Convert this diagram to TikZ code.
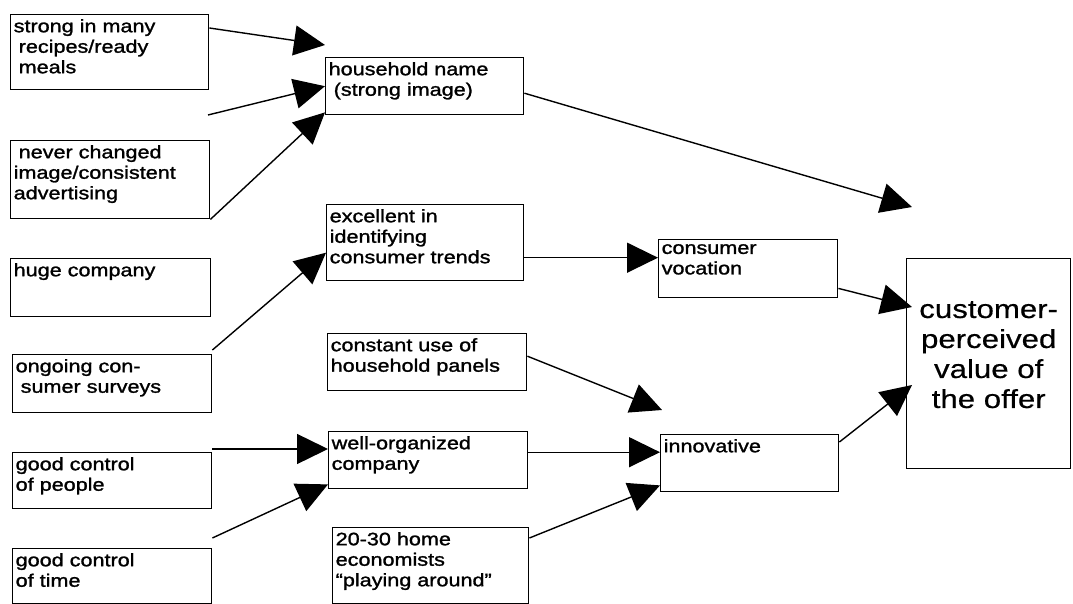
\documentclass[tikz,border=0pt]{standalone}
\usepackage{fontspec}
\setmainfont{Liberation Sans}[FakeStretch=1.2, FakeBold=1.4]
\newfontfamily\bigfont{Liberation Sans}[FakeStretch=1.2, FakeBold=0.5]
\usetikzlibrary{arrows.meta}
\newcommand{\tbx}[3]{\parbox[t][#2][t]{#1}{\raggedright\fontsize{18}{20.5}\selectfont #3}}
\newcommand{\ind}{\hspace*{5pt}}
\begin{document}
\begin{tikzpicture}[x=1pt,y=-1pt,
  box/.style={draw, line width=1.4pt, anchor=north west, inner xsep=3pt, inner ysep=4.5pt},
  arr/.style={line width=1.4pt, -{Triangle[length=31pt,width=30pt]}}]
\useasboundingbox (0,0) rectangle (1073,604);

% left column
\node[box] (b1) at (10,14)  {\tbx{192pt}{66pt}{strong in many\\ \ind recipes/ready\\ \ind meals}};
\node[box] (b2) at (10,140) {\tbx{193pt}{69pt}{\ind never changed\\ image/consistent\\ advertising}};
\node[box] (b3) at (10,258) {\tbx{194pt}{49pt}{huge company}};
\node[box] (b4) at (12,354) {\tbx{193pt}{49pt}{ongoing con-\\ \ind sumer surveys}};
\node[box] (b5) at (12,452) {\tbx{193pt}{47pt}{good control\\ of people}};
\node[box] (b6) at (12,548) {\tbx{193pt}{46pt}{good control\\ of time}};

% middle column
\node[box] (m1) at (325,57)  {\tbx{192pt}{48pt}{household name\\ \ind(strong image)}};
\node[box] (m2) at (326,204) {\tbx{191pt}{67pt}{excellent in\\ identifying\\ consumer trends}};
\node[box] (m3) at (327,333) {\tbx{193pt}{48pt}{constant use of\\ household panels}};
\node[box] (m4) at (328,431) {\tbx{193pt}{48pt}{well-organized\\ company}};
\node[box] (m5) at (332,527) {\tbx{190pt}{67pt}{20-30 home\\ economists\\ “playing around”}};

% right
\node[box] (cv)  at (658,239) {\tbx{173pt}{49pt}{consumer\\ vocation}};
\node[box] (inn) at (660,434) {\tbx{172pt}{48pt}{innovative}};
\node[draw, line width=1.4pt, anchor=north west, minimum width=164pt, minimum height=210pt,
      font=\bigfont\fontsize{26}{30}\selectfont] (cpv) at (906,258)
      {\raisebox{9pt}[\height][\depth]{\parbox{150pt}{\centering customer-\\perceived\\value of\\the offer}}};

% free ends
\coordinate (t1) at (325,45);
\coordinate (s2) at (208,115);
\coordinate (t4) at (912,207);
\coordinate (t8) at (662,410);

% connectors
\draw[arr] ([yshift=-14pt]b1.north east) -- (t1);
\draw[arr] (s2) -- (m1.west);
\draw[arr] (b2.south east) -- ([yshift=3pt]m1.south west);
\draw[arr] ([yshift=-7pt]m1.east) -- (t4);
\draw[arr] ([yshift=4pt]b4.north east) -- ([yshift=-10pt]m2.west);
\draw[arr] ([yshift=-15pt]m2.east) -- ([yshift=-15pt]m2.east -| cv.west);
\draw[arr] ([yshift=10pt]cv.south east) -- ([shift={(6pt,-49pt)}]cpv.north west);
\draw[arr] ([yshift=6pt]m3.east) -- (t8);
\draw[arr] ([yshift=3pt]b5.north east) -- ([yshift=3pt]b5.north east -| m4.west);
\draw[arr] ([yshift=10pt]b6.north east) -- ([yshift=5pt]m4.south west);
\draw[arr] ([yshift=8pt]m4.east) -- ([yshift=8pt]m4.east -| inn.west);
\draw[arr] ([yshift=-11pt]m5.north east) -- ([yshift=7pt]inn.south west);
\draw[arr] ([yshift=-8pt]inn.north east) -- ([shift={(6pt,-127pt)}]cpv.north west);
\end{tikzpicture}
\end{document}
